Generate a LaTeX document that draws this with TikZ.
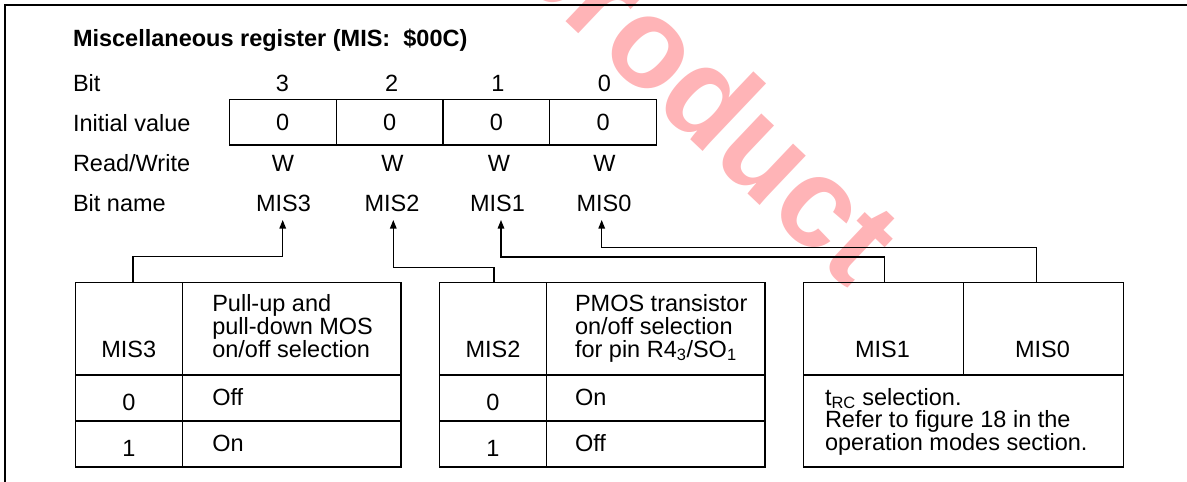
\documentclass[tikz,border=0pt]{standalone}
\usepackage{fontspec}
\setmainfont{Liberation Sans}
\usetikzlibrary{arrows.meta,calc}
\definecolor{wmred}{RGB}{255,180,183}
\begin{document}
\begin{tikzpicture}[x=1pt,y=-1pt,
  every node/.style={inner sep=0pt,outer sep=0pt},
  txt/.style={font=\fontsize{23.5}{22.7}\selectfont},
  ttl/.style={font=\fontsize{23.5}{22.7}\selectfont\bfseries},
  wmark/.style={font=\fontsize{128}{128}\selectfont\bfseries,text=wmred},
  cell/.style={draw,line width=1.2pt,anchor=north west,txt},
  conn/.style={line width=1.2pt},
  arr/.style={conn,-{Triangle[length=8.5pt,width=6.5pt]}},
  frame/.style={line width=1.4pt}]
\useasboundingbox (0,0) rectangle (1187,482);

% watermark
\node[wmark,rotate=-43.5,anchor=base] (wm) at (676,126) {product};

% frame
\draw[frame] (5,482) -- (5,5) -- (1187,5);

% title and row labels
\node[ttl,anchor=base west] (title) at (73,46) {Miscellaneous register (MIS:\ \ \$00C)};
\node[txt,anchor=base west] (lbit)  at (73,91.3)  {Bit};
\node[txt,anchor=base west] (linit) at (73,131.7) {Initial value};
\node[txt,anchor=base west] (lrw)   at (73,171.7) {Read/Write};
\node[txt,anchor=base west] (lname) at (73,211.7) {Bit name};

% register cells
\node[cell,minimum width=106.85pt,minimum height=45.7pt] (b3) at (229.3,99.3)  {0};
\node[cell,minimum width=106.85pt,minimum height=45.7pt] (b2) at (336.15,99.3) {0};
\node[cell,minimum width=106.85pt,minimum height=45.7pt] (b1) at (443.0,99.3)  {0};
\node[cell,minimum width=106.85pt,minimum height=45.7pt] (b0) at (549.85,99.3) {0};

% bit numbers
\node[txt,anchor=base] (x3) at (282.5,91.3) {3};
\node[txt,anchor=base] (x2) at (391.7,91.3) {2};
\node[txt,anchor=base] (x1) at (498,91.3)   {1};
\node[txt,anchor=base] (x0) at (604.5,91.3) {0};
% read/write
\node[txt,anchor=base] (w3) at (283,171.7)   {W};
\node[txt,anchor=base] (w2) at (392.5,171.7) {W};
\node[txt,anchor=base] (w1) at (499,171.7)   {W};
\node[txt,anchor=base] (w0) at (604.5,171.7) {W};
% bit names
\node[txt,anchor=base] (n3) at (283.5,211.7) {MIS3};
\node[txt,anchor=base] (n2) at (392,211.7)   {MIS2};
\node[txt,anchor=base] (n1) at (497.5,211.7) {MIS1};
\node[txt,anchor=base] (n0) at (604,211.7)   {MIS0};

% ---------- table 1 (MIS3)
\node[cell,minimum width=107pt,minimum height=92.3pt]   (h1a) at (75.3,282.7) {};
\node[cell,minimum width=218.7pt,minimum height=92.3pt] (h1b) at (182.3,282.7) {};
\node[cell,minimum width=107pt,minimum height=46pt]     (r1a) at (75.3,375) {};
\node[cell,minimum width=218.7pt,minimum height=46pt]   (r1b) at (182.3,375) {};
\node[cell,minimum width=107pt,minimum height=46pt]     (s1a) at (75.3,421) {};
\node[cell,minimum width=218.7pt,minimum height=46pt]   (s1b) at (182.3,421) {};
\draw[line width=1.8pt] (h1a.south west) -- (h1b.south east);
\node[txt,anchor=base] (t1h) at (128.8,357) {MIS3};
\node[txt,anchor=base west] (t1d1) at (212.3,311.6) {Pull-up and};
\node[txt,anchor=base west] (t1d2) at (212.3,334.3) {pull-down MOS};
\node[txt,anchor=base west] (t1d3) at (212.3,357)   {on/off selection};
\node[txt,anchor=base] (t1v0) at (128.8,410) {0};
\node[txt,anchor=base west] (t1o0) at (212.3,405.5) {Off};
\node[txt,anchor=base] (t1v1) at (128.8,456) {1};
\node[txt,anchor=base west] (t1o1) at (212.3,451.5) {On};

% ---------- table 2 (MIS2)
\node[cell,minimum width=107.4pt,minimum height=92.3pt] (h2a) at (439.3,282.7) {};
\node[cell,minimum width=218.3pt,minimum height=92.3pt] (h2b) at (546.7,282.7) {};
\node[cell,minimum width=107.4pt,minimum height=46pt]   (r2a) at (439.3,375) {};
\node[cell,minimum width=218.3pt,minimum height=46pt]   (r2b) at (546.7,375) {};
\node[cell,minimum width=107.4pt,minimum height=46pt]   (s2a) at (439.3,421) {};
\node[cell,minimum width=218.3pt,minimum height=46pt]   (s2b) at (546.7,421) {};
\draw[line width=1.8pt] (h2a.south west) -- (h2b.south east);
\node[txt,anchor=base] (t2h) at (493,357) {MIS2};
\node[txt,anchor=base west] (t2d1) at (575,311.6) {PMOS transistor};
\node[txt,anchor=base west] (t2d2) at (575,334.3) {on/off selection};
\node[txt,anchor=base west] (t2d3) at (575,357)   {for pin R4\textsubscript{3}/SO\textsubscript{1}};
\node[txt,anchor=base] (t2v0) at (493,410) {0};
\node[txt,anchor=base west] (t2o0) at (575,405.5) {On};
\node[txt,anchor=base] (t2v1) at (493,456) {1};
\node[txt,anchor=base west] (t2o1) at (575,451.5) {Off};

% ---------- table 3 (MIS1, MIS0)
\node[cell,minimum width=160.4pt,minimum height=92.3pt] (h3a) at (803.3,282.7) {};
\node[cell,minimum width=159.6pt,minimum height=92.3pt] (h3b) at (963.7,282.7) {};
\node[cell,minimum width=320pt,minimum height=92pt]     (r3)  at (803.3,375) {};
\draw[line width=1.8pt] (h3a.south west) -- (h3b.south east);
\node[txt,anchor=base] (t3h1) at (882.5,357) {MIS1};
\node[txt,anchor=base] (t3h0) at (1042.5,357) {MIS0};
\node[txt,anchor=base west] (t3d1) at (825,405)   {t\textsubscript{RC} selection.};
\node[txt,anchor=base west] (t3d2) at (825,427.5) {Refer to figure 18 in the};
\node[txt,anchor=base west] (t3d3) at (825,450)   {operation modes section.};

% ---------- connectors
\coordinate (k3) at (133,282.7);
\coordinate (k2) at (494,282.7);
\coordinate (k1) at (884.3,282.7);
\coordinate (k0) at (1036.7,282.7);
\coordinate (j3) at (282.7,256.7);
\coordinate (j2) at (393.3,267.7);
\coordinate (j1) at (501,256.9);
\coordinate (j0) at (601.7,247.2);
\coordinate (a3) at (282.7,220);
\coordinate (a2) at (393.3,220);
\coordinate (a1) at (501,220);
\coordinate (a0) at (601.7,220);
\draw[arr] (k3) |- (j3) -- (a3);
\draw[arr] (k2) |- (j2) -- (a2);
\draw[arr] (k1) |- (j1) -- (a1);
\draw[arr] (k0) |- (j0) -- (a0);
\end{tikzpicture}
\end{document}
